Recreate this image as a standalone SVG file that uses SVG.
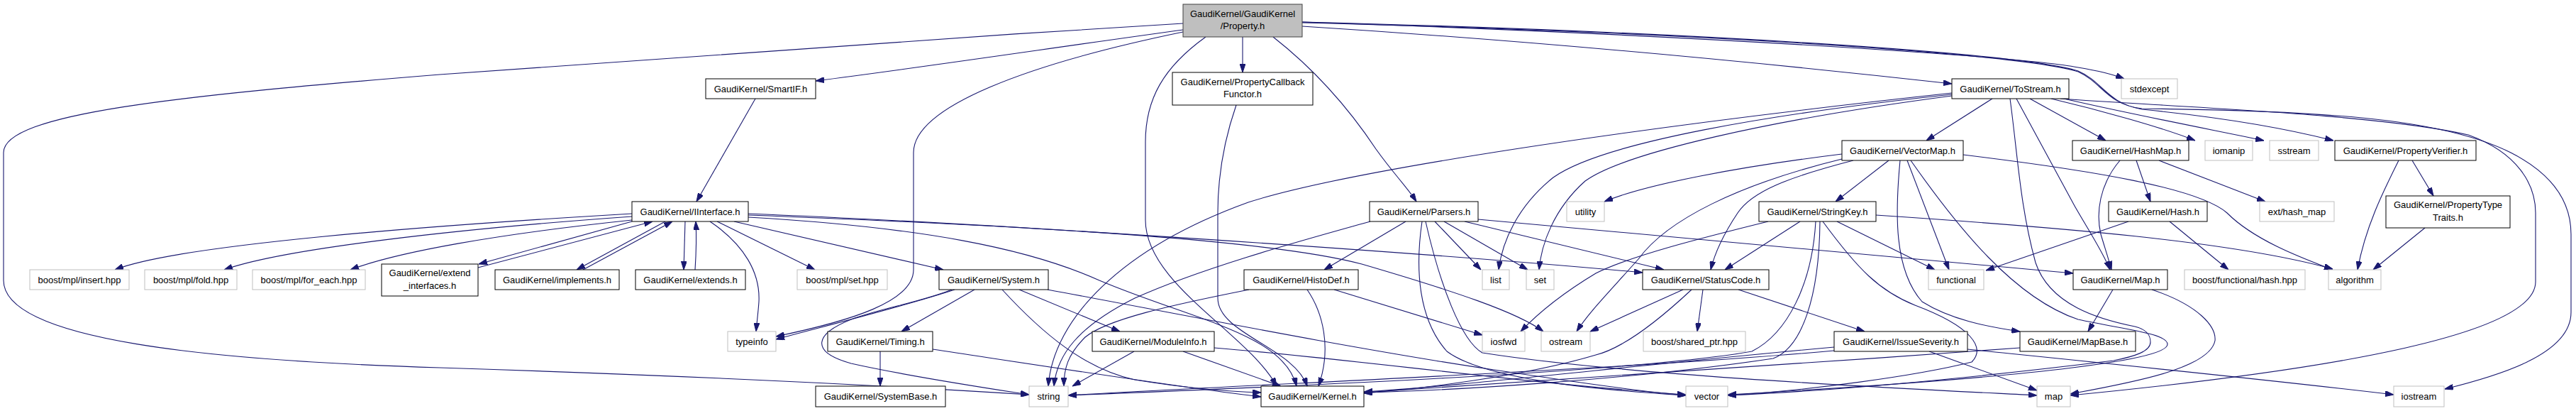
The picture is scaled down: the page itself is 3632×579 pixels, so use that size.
<svg xmlns="http://www.w3.org/2000/svg" width="3632" height="579" viewBox="0 0 3632 579">
<defs>
<style>
.n rect{fill:#fff;stroke:#000;stroke-width:1}
.g rect{fill:#fff;stroke:#bfbfbf;stroke-width:1}
.p rect{fill:#bfbfbf;stroke:#404040;stroke-width:1}
text{font-family:"Liberation Sans",Arial,Helvetica,sans-serif;font-size:13px;text-anchor:middle;fill:#000}
.e path{fill:none;stroke:#191970;stroke-width:1.1;marker-end:url(#arr)}
</style>
<marker id="arr" viewBox="0 0 12 8" refX="12" refY="4" markerWidth="12" markerHeight="8" orient="auto" markerUnits="userSpaceOnUse"><path d="M0,0 L12,4 L0,8 z" fill="#191970" stroke="#191970" stroke-width="1"/></marker>
</defs>
<rect width="3632" height="579" fill="#fff"/>
<g id="edges" class="e">
<path d="M1668,33 C1300,55 900,85 620,105 C250,135 5,160 5,215 L5,395 C5,480 300,508 620,518 C900,527 1200,540 1451,556"/>
<path d="M1668,42 C1500,65 1300,95 1150,114"/>
<path d="M1668,45 C1450,90 1288,150 1288,215 L1288,380 C1288,425 1200,452 1094,474"/>
<path d="M1700,52 C1640,95 1615,140 1615,200 L1615,310 C1615,400 1760,470 1800,544"/>
<path d="M1752,52 L1752,102"/>
<path d="M1795,52 C1850,95 1900,150 1940,210 C1965,245 1985,265 1997,284"/>
<path d="M1836,37 C2200,60 2500,90 2752,118"/>
<path d="M1836,31 C2400,50 2850,80 2930,95 C2960,100 2980,105 2995,111"/>
<path d="M1836,31 C2400,45 2850,75 2930,100 C2965,115 2970,145 3020,154 C3100,162 3200,175 3290,198"/>
<path d="M1836,32 C2400,46 2850,76 2930,101 C2965,117 2970,147 3020,153 C3300,156 3450,170 3540,215 C3605,248 3625,290 3625,330 L3625,440 C3625,500 3520,530 3447,548"/>
<path d="M2809,139 L2716,198"/>
<path d="M2862,139 L2969,198"/>
<path d="M2843,139 L2925,290 C2945,325 2965,355 2975,380"/>
<path d="M2834,139 C2845,220 2848,290 2870,370 C2890,430 2960,450 3010,460 C3030,465 3032,475 3032,482 C3032,495 3010,502 2980,508 C2800,530 2600,550 2436,557"/>
<path d="M2905,139 C3050,150 3350,160 3480,190 C3550,215 3575,260 3575,300 L3575,397 C3575,470 3300,520 2919,557"/>
<path d="M2892,139 C2960,155 3050,180 3095,198"/>
<path d="M2910,139 C3000,160 3130,185 3192,198"/>
<path d="M2752,131 C2300,180 1900,240 1760,285 C1580,350 1485,450 1478,544"/>
<path d="M2752,133 C2500,160 2260,200 2190,250 C2140,290 2118,340 2113,380"/>
<path d="M2752,135 C2500,168 2290,215 2235,255 C2190,295 2173,345 2170,380"/>
<path d="M1743,148 C1725,200 1717,250 1717,300 L1717,420 C1717,470 1825,490 1843,544"/>
<path d="M1065,139 L982,284"/>
<path d="M891,301 C600,318 250,345 162,380"/>
<path d="M891,305 C650,322 400,350 316,380"/>
<path d="M891,310 C700,330 560,355 494,380"/>
<path d="M891,312 L675,372"/>
<path d="M674,377 L920,312"/>
<path d="M938,312 L813,380"/>
<path d="M822,380 L948,312"/>
<path d="M966,312 L964,380"/>
<path d="M980,380 C982,350 982,330 981,312"/>
<path d="M1001,312 C1050,345 1072,385 1070,425 C1069,440 1067,455 1066,467"/>
<path d="M1011,312 L1149,380"/>
<path d="M1035,312 L1330,380"/>
<path d="M1055,301 C1400,315 2000,355 2316,384"/>
<path d="M1055,303 C1500,320 1800,340 1920,372 C2050,410 2140,440 2176,467"/>
<path d="M1055,306 C1300,320 1450,350 1550,395 C1680,450 1810,470 1828,544"/>
<path d="M1374,408 L1271,467"/>
<path d="M1437,408 L1579,467"/>
<path d="M1413,408 C1470,470 1530,520 1600,535 C1680,548 1740,552 1778,553"/>
<path d="M1477,408 C1650,440 1900,490 2100,520 C2200,535 2300,550 2377,557"/>
<path d="M1346,408 C1280,430 1180,455 1094,478"/>
<path d="M1342,408 C1300,425 1240,435 1200,450 C1150,470 1140,495 1200,512 C1280,530 1380,545 1451,556"/>
<path d="M1241,495 L1241,544"/>
<path d="M1315,492 C1500,520 1680,548 1778,559"/>
<path d="M1599,495 L1512,544"/>
<path d="M1668,495 L1806,544"/>
<path d="M1712,490 C1900,505 2150,540 2377,556"/>
<path d="M1881,408 L2090,472"/>
<path d="M1843,408 C1865,440 1878,490 1859,544"/>
<path d="M1761,408 C1650,430 1560,450 1530,475 C1505,500 1500,520 1500,544"/>
<path d="M1932,312 C1850,335 1700,375 1600,420 C1520,460 1490,500 1486,544"/>
<path d="M1982,312 L1867,380"/>
<path d="M2005,312 C1995,380 2000,450 2040,495 C2100,540 2300,552 2377,557"/>
<path d="M2010,312 C2030,400 2060,480 2090,497 C2300,530 2700,548 2872,557"/>
<path d="M2023,312 L2088,380"/>
<path d="M2036,312 L2154,380"/>
<path d="M2065,312 L2346,380"/>
<path d="M2084,309 C2400,340 2700,365 2923,385"/>
<path d="M2663,226 L2588,284"/>
<path d="M2679,226 C2672,300 2670,380 2710,425 C2750,450 2800,460 2848,467"/>
<path d="M2689,226 L2748,380"/>
<path d="M2694,226 C2760,320 2840,420 2930,450 C3000,465 3056,470 3056,485 C3056,505 2900,530 2436,556"/>
<path d="M2768,218 C2950,240 3100,265 3140,300 C3180,340 3250,365 3289,380"/>
<path d="M2597,217 C2450,235 2320,260 2262,284"/>
<path d="M2597,224 C2450,260 2350,310 2310,365 C2270,410 2240,440 2223,467"/>
<path d="M2613,226 C2520,250 2470,270 2450,300 C2430,330 2418,355 2412,380"/>
<path d="M2989,226 C2960,260 2955,300 2962,330 C2968,350 2973,365 2977,380"/>
<path d="M3012,226 L3032,284"/>
<path d="M3044,226 L3194,284"/>
<path d="M3059,312 L3142,380"/>
<path d="M3001,312 L2800,381"/>
<path d="M2979,408 L2944,467"/>
<path d="M3034,408 C3100,430 3125,460 3123,480 C3115,520 3000,540 2919,555"/>
<path d="M2848,490 C2500,515 2100,543 1923,553"/>
<path d="M2586,489 C2300,515 2050,545 1923,552"/>
<path d="M2586,494 C2300,520 1800,540 1506,557"/>
<path d="M2720,495 L2872,550"/>
<path d="M2774,492 C3000,515 3200,535 3375,556"/>
<path d="M2373,408 L2242,467"/>
<path d="M2385,408 C2340,450 2290,490 2250,500 C2150,530 2000,548 1923,554"/>
<path d="M2401,408 L2393,467"/>
<path d="M2451,408 L2629,467"/>
<path d="M2493,312 C2400,335 2300,360 2250,385 C2200,415 2165,445 2144,467"/>
<path d="M2538,312 L2432,380"/>
<path d="M2560,312 C2555,400 2520,470 2470,495 C2300,525 1800,545 1506,557"/>
<path d="M2566,312 C2565,420 2540,490 2500,505 C2300,535 2050,550 1923,553"/>
<path d="M2570,312 C2620,380 2650,410 2700,430 C2780,460 2800,490 2780,510 C2700,530 2550,550 2436,557"/>
<path d="M2590,312 L2728,380"/>
<path d="M2645,303 C2900,320 3150,340 3289,379"/>
<path d="M3382,226 C3360,270 3335,320 3324,380"/>
<path d="M3401,226 L3431,276"/>
<path d="M3419,321 L3346,380"/>
</g>
<g id="n-property" class="p"><rect x="1668" y="6" width="168" height="46"/><text x="1752" y="24">GaudiKernel/GaudiKernel</text><text x="1752" y="41">/Property.h</text></g>
<g id="n-smartif" class="n"><rect x="995" y="111" width="155" height="28"/><text x="1072.5" y="129.5">GaudiKernel/SmartIF.h</text></g>
<g id="n-callback" class="n"><rect x="1653" y="102" width="198" height="46"/><text x="1752" y="120">GaudiKernel/PropertyCallback</text><text x="1752" y="137">Functor.h</text></g>
<g id="n-tostream" class="n"><rect x="2752" y="111" width="165" height="28"/><text x="2834.5" y="129.5">GaudiKernel/ToStream.h</text></g>
<g id="n-stdexcept" class="g"><rect x="2991" y="111" width="79" height="28"/><text x="3030.5" y="129.5">stdexcept</text></g>
<g id="n-vectormap" class="n"><rect x="2597" y="198" width="171" height="28"/><text x="2682.5" y="216.5">GaudiKernel/VectorMap.h</text></g>
<g id="n-hashmap" class="n"><rect x="2922" y="198" width="164" height="28"/><text x="3004" y="216.5">GaudiKernel/HashMap.h</text></g>
<g id="n-iomanip" class="g"><rect x="3109" y="198" width="67" height="28"/><text x="3142.5" y="216.5">iomanip</text></g>
<g id="n-sstream" class="g"><rect x="3200" y="198" width="69" height="28"/><text x="3234.5" y="216.5">sstream</text></g>
<g id="n-propverifier" class="n"><rect x="3292" y="198" width="199" height="28"/><text x="3391.5" y="216.5">GaudiKernel/PropertyVerifier.h</text></g>
<g id="n-utility" class="g"><rect x="2209" y="284" width="53" height="28"/><text x="2235.5" y="302.5">utility</text></g>
<g id="n-parsers" class="n"><rect x="1931" y="284" width="153" height="28"/><text x="2007.5" y="302.5">GaudiKernel/Parsers.h</text></g>
<g id="n-iinterface" class="n"><rect x="891" y="284" width="164" height="28"/><text x="973" y="302.5">GaudiKernel/IInterface.h</text></g>
<g id="n-stringkey" class="n"><rect x="2480" y="284" width="165" height="28"/><text x="2562.5" y="302.5">GaudiKernel/StringKey.h</text></g>
<g id="n-hash" class="n"><rect x="2973" y="284" width="139" height="28"/><text x="3042.5" y="302.5">GaudiKernel/Hash.h</text></g>
<g id="n-exthashmap" class="g"><rect x="3186" y="284" width="105" height="28"/><text x="3238.5" y="302.5">ext/hash_map</text></g>
<g id="n-proptypetraits" class="n"><rect x="3364" y="276" width="175" height="45"/><text x="3451.5" y="293">GaudiKernel/PropertyType</text><text x="3451.5" y="311">Traits.h</text></g>
<g id="n-insert" class="g"><rect x="42" y="380" width="140" height="28"/><text x="112" y="398.5">boost/mpl/insert.hpp</text></g>
<g id="n-fold" class="g"><rect x="204" y="380" width="130" height="28"/><text x="269" y="398.5">boost/mpl/fold.hpp</text></g>
<g id="n-foreach" class="g"><rect x="356" y="380" width="159" height="28"/><text x="435.5" y="398.5">boost/mpl/for_each.hpp</text></g>
<g id="n-extendinterfaces" class="n"><rect x="538" y="372" width="136" height="45"/><text x="606" y="389">GaudiKernel/extend</text><text x="606" y="407">_interfaces.h</text></g>
<g id="n-implements" class="n"><rect x="698" y="380" width="175" height="28"/><text x="785.5" y="398.5">GaudiKernel/implements.h</text></g>
<g id="n-extends" class="n"><rect x="896" y="380" width="155" height="28"/><text x="973.5" y="398.5">GaudiKernel/extends.h</text></g>
<g id="n-mplset" class="g"><rect x="1124" y="380" width="127" height="28"/><text x="1187.5" y="398.5">boost/mpl/set.hpp</text></g>
<g id="n-system" class="n"><rect x="1324" y="380" width="154" height="28"/><text x="1401" y="398.5">GaudiKernel/System.h</text></g>
<g id="n-histodef" class="n"><rect x="1754" y="380" width="161" height="28"/><text x="1834.5" y="398.5">GaudiKernel/HistoDef.h</text></g>
<g id="n-list" class="g"><rect x="2090" y="380" width="38" height="28"/><text x="2109" y="398.5">list</text></g>
<g id="n-set" class="g"><rect x="2152" y="380" width="39" height="28"/><text x="2171.5" y="398.5">set</text></g>
<g id="n-statuscode" class="n"><rect x="2316" y="380" width="178" height="28"/><text x="2405" y="398.5">GaudiKernel/StatusCode.h</text></g>
<g id="n-functional" class="g"><rect x="2719" y="380" width="78" height="28"/><text x="2758" y="398.5">functional</text></g>
<g id="n-map-h" class="n"><rect x="2923" y="380" width="133" height="28"/><text x="2989.5" y="398.5">GaudiKernel/Map.h</text></g>
<g id="n-boosthash" class="g"><rect x="3080" y="380" width="170" height="28"/><text x="3165" y="398.5">boost/functional/hash.hpp</text></g>
<g id="n-algorithm" class="g"><rect x="3283" y="380" width="74" height="28"/><text x="3320" y="398.5">algorithm</text></g>
<g id="n-typeinfo" class="g"><rect x="1026" y="467" width="68" height="28"/><text x="1060" y="485.5">typeinfo</text></g>
<g id="n-timing" class="n"><rect x="1167" y="467" width="148" height="28"/><text x="1241" y="485.5">GaudiKernel/Timing.h</text></g>
<g id="n-moduleinfo" class="n"><rect x="1540" y="467" width="172" height="28"/><text x="1626" y="485.5">GaudiKernel/ModuleInfo.h</text></g>
<g id="n-iosfwd" class="g"><rect x="2090" y="467" width="60" height="28"/><text x="2120" y="485.5">iosfwd</text></g>
<g id="n-ostream" class="g"><rect x="2173" y="467" width="69" height="28"/><text x="2207.5" y="485.5">ostream</text></g>
<g id="n-sharedptr" class="g"><rect x="2317" y="467" width="144" height="28"/><text x="2389" y="485.5">boost/shared_ptr.hpp</text></g>
<g id="n-issueseverity" class="n"><rect x="2586" y="467" width="188" height="28"/><text x="2680" y="485.5">GaudiKernel/IssueSeverity.h</text></g>
<g id="n-mapbase" class="n"><rect x="2848" y="467" width="163" height="28"/><text x="2929.5" y="485.5">GaudiKernel/MapBase.h</text></g>
<g id="n-systembase" class="n"><rect x="1150" y="544" width="183" height="29"/><text x="1241.5" y="563">GaudiKernel/SystemBase.h</text></g>
<g id="n-string" class="g"><rect x="1451" y="544" width="55" height="29"/><text x="1478.5" y="563">string</text></g>
<g id="n-kernel" class="n"><rect x="1778" y="544" width="145" height="29"/><text x="1850.5" y="563">GaudiKernel/Kernel.h</text></g>
<g id="n-vector" class="g"><rect x="2377" y="544" width="59" height="29"/><text x="2406.5" y="563">vector</text></g>
<g id="n-map" class="g"><rect x="2872" y="544" width="47" height="29"/><text x="2895.5" y="563">map</text></g>
<g id="n-iostream" class="g"><rect x="3375" y="544" width="71" height="29"/><text x="3410.5" y="563">iostream</text></g>
</svg>
